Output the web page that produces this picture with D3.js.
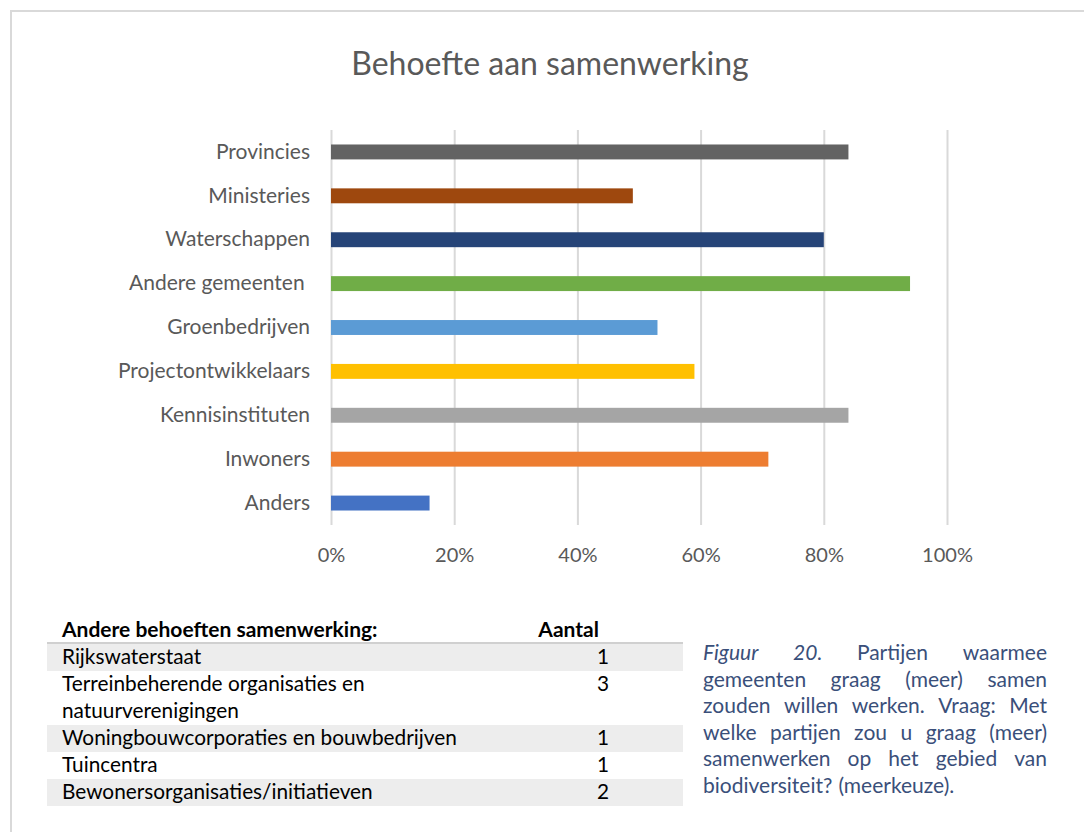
<!DOCTYPE html>
<html><head><meta charset="utf-8">
<script src="https://cdn.jsdelivr.net/npm/d3@7"></script>
<style>body{margin:0;background:#fff}svg{display:block}</style>
</head><body>
<script>
const categories = ["Provincies","Ministeries","Waterschappen","Andere gemeenten ","Groenbedrijven","Projectontwikkelaars","Kennisinstituten","Inwoners","Anders"];
const values = [0.84,0.49,0.80,0.94,0.53,0.59,0.84,0.71,0.16];
const colors = ["#636363","#9e480e","#264478","#70ad47","#5b9bd5","#ffc000","#a5a5a5","#ed7d31","#4472c4"];
const xTicks = [0,0.2,0.4,0.6,0.8,1.0];
const tableHeader = ["Andere behoeften samenwerking:","Aantal"];
const otherNames = [["Rijkswaterstaat"],["Terreinbeherende organisaties en","natuurverenigingen"],["Woningbouwcorporaties en bouwbedrijven"],["Tuincentra"],["Bewonersorganisaties/initiatieven"]];
const otherCounts = [1,3,1,1,2];
const captionLines = [
  [{t:"Figuur",i:true},{t:"20.",i:true},{t:"Partijen"},{t:"waarmee"}],
  [{t:"gemeenten"},{t:"graag"},{t:"(meer)"},{t:"samen"}],
  [{t:"zouden"},{t:"willen"},{t:"werken."},{t:"Vraag:"},{t:"Met"}],
  [{t:"welke"},{t:"partijen"},{t:"zou"},{t:"u"},{t:"graag"},{t:"(meer)"}],
  [{t:"samenwerken"},{t:"op"},{t:"het"},{t:"gebied"},{t:"van"}],
  [{t:"biodiversiteit?"},{t:"(meerkeuze)."}]
];

const W=1084,H=832;
const FONT="Lato, 'Open Sans', sans-serif";
const svg=d3.select("body").append("svg").attr("width",W).attr("height",H);
svg.append("rect").attr("width",W).attr("height",H).attr("fill","#fff");
svg.append("path").attr("d","M11,832V11H1084").attr("fill","none").attr("stroke","#d9d9d9").attr("stroke-width",2);

svg.append("text").attr("x",550).attr("y",75).attr("text-anchor","middle")
  .attr("font-family",FONT).attr("font-size",32).attr("fill","#595959").text("Behoefte aan samenwerking");

const x=d3.scaleLinear().domain([0,1]).range([331,947]);
const y=d3.scaleBand().domain(categories).range([130,525]).paddingInner(0.66).paddingOuter(0.33);

const gx=svg.append("g").attr("transform","translate(0,525)")
  .call(d3.axisBottom(x).tickValues(xTicks).tickFormat(d3.format(".0%")).tickSize(-395).tickPadding(23));
gx.select(".domain").remove();
gx.selectAll(".tick line").attr("stroke","#d9d9d9").attr("stroke-width",2);
gx.selectAll(".tick text").attr("font-family",FONT).attr("font-size",20).attr("fill","#595959");

svg.append("g").selectAll("rect").data(categories).join("rect")
  .attr("x",x(0)).attr("y",d=>y(d)).attr("height",y.bandwidth())
  .attr("width",(d,i)=>x(values[i])-x(0)).attr("fill",(d,i)=>colors[i]);

const gy=svg.append("g").attr("transform","translate(331,0)")
  .call(d3.axisLeft(y).tickSize(0).tickPadding(21));
gy.select(".domain").remove();
gy.selectAll(".tick text").attr("font-family",FONT).attr("font-size",21).attr("fill","#595959").style("white-space","pre");

const TF="Lato, 'Open Sans', sans-serif";
const tg=svg.append("g");
tg.append("text").attr("x",62).attr("y",637).attr("font-family",TF).attr("font-weight","bold").attr("font-size",21).attr("fill","#000").text(tableHeader[0]);
tg.append("text").attr("x",599).attr("y",637).attr("text-anchor","end").attr("font-family",TF).attr("font-weight","bold").attr("font-size",21).attr("fill","#000").text(tableHeader[1]);
tg.append("line").attr("x1",47).attr("x2",683).attr("y1",643).attr("y2",643).attr("stroke","#d0d0d0").attr("stroke-width",2);
let ty=644;
const lineH=27;
otherNames.forEach((lines,i)=>{
  const h=lines.length*lineH;
  if(i%2===0) tg.append("rect").attr("x",47).attr("y",ty).attr("width",636).attr("height",h).attr("fill","#ededed");
  lines.forEach((l,j)=>{
    tg.append("text").attr("x",62).attr("y",ty+20+j*lineH).attr("font-family",TF).attr("font-size",20.8).attr("fill","#000").text(l);
  });
  tg.append("text").attr("x",609).attr("y",ty+20).attr("text-anchor","end").attr("font-family",TF).attr("font-size",20.8).attr("fill","#000").text(otherCounts[i]);
  ty+=h;
});

const cg=svg.append("g");
const cx0=703,cx1=1047;
captionLines.forEach((words,li)=>{
  const by=660+li*26.6;
  const els=words.map(w=>cg.append("text").attr("y",by).attr("font-family",TF).attr("font-size",21)
    .attr("font-style",w.i?"italic":"normal").attr("fill","#3a4f7a").text(w.t));
  const widths=els.map(e=>e.node().getComputedTextLength());
  const total=d3.sum(widths);
  const last=li===captionLines.length-1;
  let gap=last?6:(cx1-cx0-total)/(words.length-1);
  if(gap<5) gap=5;
  let cx=cx0;
  els.forEach((e,k)=>{e.attr("x",cx);cx+=widths[k]+gap;});
});
</script>
</body></html>
